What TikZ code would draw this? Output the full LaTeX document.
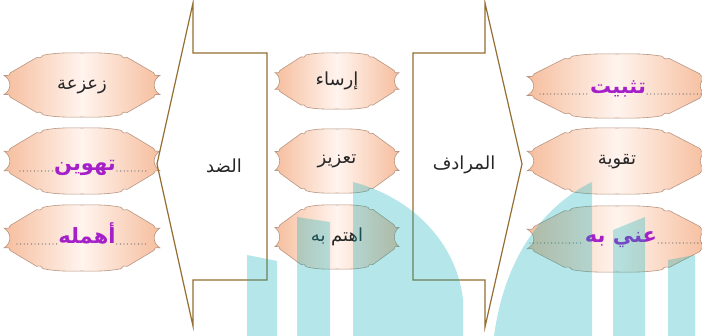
\documentclass[tikz,border=0pt]{standalone}
\usepackage{fontspec}
\newfontfamily\arabicfont[Script=Arabic]{DejaVu Sans}
\TeXXeTstate=1
\definecolor{edgebrown}{RGB}{150,110,50}
\definecolor{peach}{RGB}{246,190,158}
\definecolor{peachlight}{RGB}{255,244,238}
\definecolor{badgeline}{RGB}{185,150,130}
\definecolor{purpletext}{RGB}{165,32,200}
\definecolor{wmteal}{RGB}{0,175,185}
\definecolor{dotgray}{RGB}{110,110,110}
\newcommand\ar[1]{{\arabicfont\beginR #1\endR}}
\newcommand\badge[4]{%
  \begin{scope}[shift={(#1,#2)},x=#3pt,y=-#4pt]
    \path[badgefill] (0,-1) .. controls (0.25,-1.02) and (0.4,-0.98) .. (0.5,-0.93)
      .. controls (0.53,-0.84) .. (0.58,-0.86) -- (0.92,-0.38)
      .. controls (0.93,-0.29) .. (1,-0.3)
      .. controls (0.9,-0.15) and (0.9,0.15) .. (1,0.3)
      .. controls (0.93,0.29) .. (0.92,0.38) -- (0.58,0.86)
      .. controls (0.53,0.84) .. (0.5,0.93)
      .. controls (0.4,0.98) and (0.25,1.02) .. (0,1)
      .. controls (-0.25,1.02) and (-0.4,0.98) .. (-0.5,0.93)
      .. controls (-0.53,0.84) .. (-0.58,0.86) -- (-0.92,0.38)
      .. controls (-0.93,0.29) .. (-1,0.3)
      .. controls (-0.9,0.15) and (-0.9,-0.15) .. (-1,-0.3)
      .. controls (-0.93,-0.29) .. (-0.92,-0.38) -- (-0.58,-0.86)
      .. controls (-0.53,-0.84) .. (-0.5,-0.93)
      .. controls (-0.4,-0.98) and (-0.25,-1.02) .. (0,-1) -- cycle;
  \end{scope}}
\begin{document}
\begin{tikzpicture}[x=1pt,y=-1pt,
  badgefill/.style={draw=badgeline,line width=0.6pt,left color=peach,right color=peach,middle color=peachlight},
  blacktext/.style={inner sep=0pt,text=black!85,font=\fontsize{18}{20}\selectfont},
  purpletxt/.style={inner xsep=1pt,inner ysep=0pt,anchor=base,text=purpletext,font=\fontsize{21}{23}\selectfont\bfseries},
  arrowlabel/.style={inner sep=0pt,text=black!85,font=\fontsize{18}{20}\selectfont},
  bigarrow/.style={draw=edgebrown,line width=1.2pt,line join=miter},
  dots/.style={draw=dotgray,line width=1.3pt,line cap=round,dash pattern=on 0pt off 3.6pt},
  watermark/.style={fill=wmteal,fill opacity=0.29,draw=none}]
\useasboundingbox (0,0) rectangle (702,336);
\clip (0,0) rectangle (702,336);
\fill[white] (0,0) rectangle (702,336);

% badges: left column
\badge{82}{85}{78}{32}
\badge{82}{161}{78}{33}
\badge{82}{238}{78}{33}
% middle column
\badge{337}{81}{62}{28}
\badge{337}{161}{62}{32}
\badge{337}{237}{62}{32}
% right column
\badge{617}{86}{90}{32}
\badge{617}{161}{90}{33}
\badge{617}{239}{90}{33}

% texts left
\node[blacktext] (l1) at (82,87) {\ar{زعزعة}};
\node[purpletxt] (l2) at (85,171) {\ar{تهوين}};
\node[purpletxt] (l3) at (87,244) {\ar{أهمله}};
% texts middle
\node[blacktext] (m1) at (337,81) {\ar{إرساء}};
\node[blacktext] (m2) at (337,161) {\ar{تعزيز}};
\node[blacktext] (m3) at (337,237) {\ar{اهتم به}};
% texts right
\node[purpletxt] (r1) at (618,94) {\ar{تثبيت}};
\node[blacktext] (r2) at (617,162) {\ar{تقوية}};
\node[purpletxt] (r3) at (621,243) {\ar{عني به}};

% dotted lines
\coordinate (l2a) at (20,171);  \coordinate (l2b) at (147,171);
\coordinate (l3a) at (17,244);  \coordinate (l3b) at (147,244);
\coordinate (r1a) at (540,94);  \coordinate (r1b) at (704,94);
\coordinate (r3a) at (530,243); \coordinate (r3b) at (704,243);
\draw[dots] (l2a) -- (l2.west |- l2a);
\draw[dots] (l2.east |- l2a) -- (l2b);
\draw[dots] (l3a) -- (l3.west |- l3a);
\draw[dots] (l3.east |- l3a) -- (l3b);
\draw[dots] (r1a) -- (r1.west |- r1a);
\draw[dots] (r1.east |- r1a) -- (r1b);
\draw[dots] (r3a) -- (r3.west |- r3a);
\draw[dots] (r3.east |- r3a) -- (r3b);

% big arrows
\draw[bigarrow] (157,164) -- (193,3) -- (193,53) -- (267,53) -- (267,280) -- (193,280) -- (193,326) -- cycle;
\draw[bigarrow] (522,164) -- (485,3) -- (485,53) -- (413,53) -- (413,280) -- (485,280) -- (485,327) -- cycle;
\node[arrowlabel] (opp) at (224,166) {\ar{الضد}};
\node[arrowlabel] (syn) at (464,165) {\ar{المرادف}};

% watermark
\path[watermark] (247,255) -- (277,261) -- (277,340) -- (247,340) -- cycle;
\path[watermark] (297,217) -- (330,222) -- (330,340) -- (297,340) -- cycle;
\path[watermark] (353,182) .. controls (420,200) and (458,250) .. (463,300) -- (463,340) -- (353,340) -- cycle;
\path[watermark] (592,182) .. controls (545,205) and (505,255) .. (494,336) -- (494,340) -- (592,340) -- cycle;
\path[watermark] (613,230) -- (645,217) -- (645,340) -- (613,340) -- cycle;
\path[watermark] (668,260) -- (695,255) -- (695,340) -- (668,340) -- cycle;
\end{tikzpicture}
\end{document}
